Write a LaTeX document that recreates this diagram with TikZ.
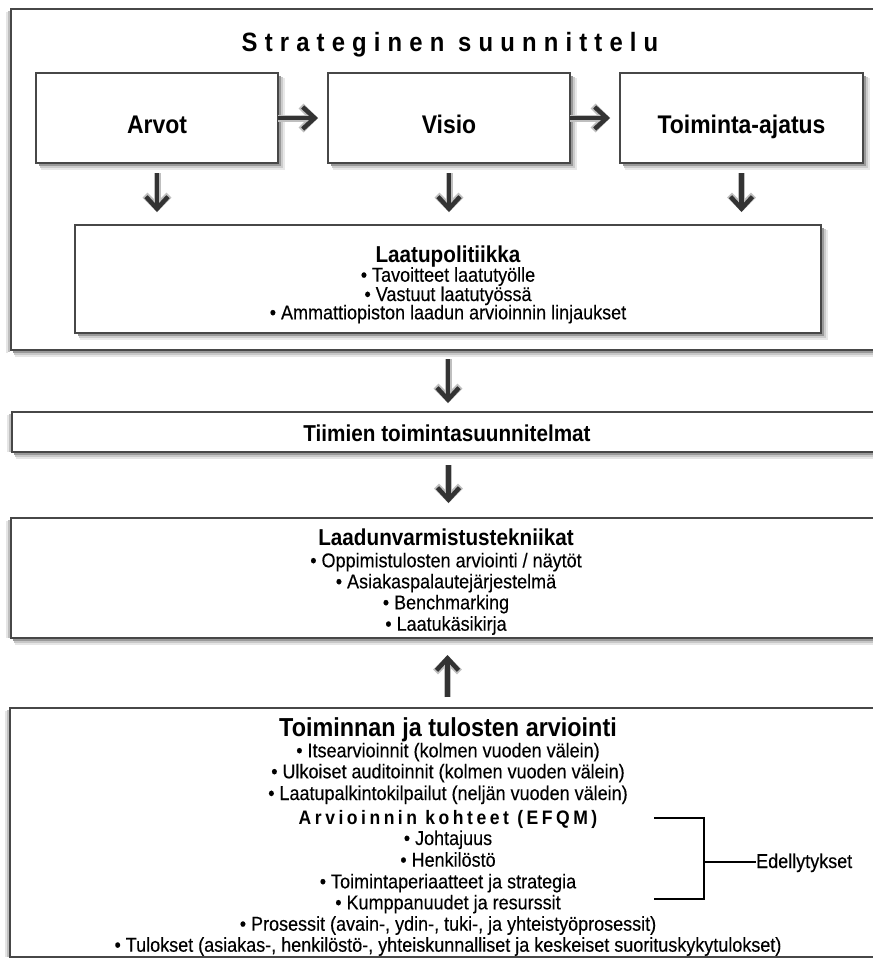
\documentclass[tikz,border=0pt]{standalone}
\usepackage{fontspec}
\setmainfont{Liberation Sans}
\newfontfamily\rgfont[FakeStretch=0.9,FakeBold=0.25]{Liberation Sans}
\newfontfamily\bdfont[FakeStretch=0.9]{Liberation Sans}
\newfontfamily\ttlfont[FakeStretch=0.9,LetterSpace=27]{Liberation Sans}
\newfontfamily\efqmfont[FakeStretch=0.9,LetterSpace=18]{Liberation Sans}
\usetikzlibrary{arrows.meta}
\begin{document}
\begin{tikzpicture}[x=1pt,y=-1pt,
  box/.style={draw=black!72, line width=2.5pt, fill=white, outer sep=0pt, inner sep=0pt},
  shd/.style={draw=black!#1, line width=2pt},
  rg/.style={font=\rgfont\fontsize{20}{21}\selectfont, inner sep=0pt, anchor=base},
  hdA/.style={font=\bdfont\bfseries\fontsize{25.5}{27}\selectfont, inner sep=0pt, anchor=base},
  hdB/.style={font=\bdfont\bfseries\fontsize{23}{25}\selectfont, inner sep=0pt, anchor=base},
  hdC/.style={font=\bdfont\bfseries\fontsize{26}{27}\selectfont, inner sep=0pt, anchor=base},
  ttl/.style={font=\ttlfont\bfseries\fontsize{26.5}{28}\selectfont, inner sep=0pt, anchor=base},
  efqm/.style={font=\efqmfont\bfseries\fontsize{19.5}{21}\selectfont, inner sep=0pt, anchor=base},
  arr/.style={draw=black!80, line width=4.5pt, -{Straight Barb[length=12pt,width=22pt]}},
  arrsh/.style={draw=black!25, line width=7pt, -{Straight Barb[length=12pt,width=24pt]}},
  brk/.style={draw=black, line width=2pt}]
\clip (0,0) rectangle (873,959);
\fill[white] (0,0) rectangle (873,959);

% Strategic planning frame
\node[box, minimum width=874pt, minimum height=341pt] (strat) at (448,179.5) {};
\draw[shd=40] ([xshift=2pt,yshift=-2.25pt]strat.south west) -- ([yshift=-2.25pt]strat.south east);
\draw[shd=22] ([xshift=3pt,yshift=-4.25pt]strat.south west) -- ([yshift=-4.25pt]strat.south east);
\draw[shd=10] ([xshift=4pt,yshift=-6.25pt]strat.south west) -- ([yshift=-6.25pt]strat.south east);
\draw[shd=25] ([xshift=-2.25pt,yshift=-2pt]strat.north west) -- ([xshift=-2.25pt,yshift=-2pt]strat.south west);
\draw[shd=10] ([xshift=-4.25pt,yshift=-3pt]strat.north west) -- ([xshift=-4.25pt,yshift=-3pt]strat.south west);
\node[ttl] (strattxt) at (450,51.5) {Strateginen suunnittelu};

\foreach \b/\c/\w in {arvot/157/242, visio/449/242, toim/741.5/243}{
  \node[box, minimum width=\w pt, minimum height=90pt] (\b) at (\c,118) {};
  \draw[shd=40] ([xshift=3pt,yshift=-2.25pt]\b.south west) -- ([xshift=2.25pt,yshift=-2.25pt]\b.south east) -- ([xshift=2.25pt,yshift=-3pt]\b.north east);
  \draw[shd=20] ([xshift=4pt,yshift=-4.25pt]\b.south west) -- ([xshift=4.25pt,yshift=-4.25pt]\b.south east) -- ([xshift=4.25pt,yshift=-4pt]\b.north east);
  \draw[shd=9] ([xshift=5pt,yshift=-6.25pt]\b.south west) -- ([xshift=6.25pt,yshift=-6.25pt]\b.south east) -- ([xshift=6.25pt,yshift=-5pt]\b.north east);
}
\node[hdA] (arvott) at (157,133) {Arvot};
\node[hdA] (visiot) at (449,133) {Visio};
\node[hdA] (toimt) at (741.5,133) {Toiminta-ajatus};

\node[box, minimum width=746pt, minimum height=108pt] (lp) at (448,279) {};
\draw[shd=40] ([xshift=3pt,yshift=-2.25pt]lp.south west) -- ([xshift=2.25pt,yshift=-2.25pt]lp.south east) -- ([xshift=2.25pt,yshift=-3pt]lp.north east);
\draw[shd=20] ([xshift=4pt,yshift=-4.25pt]lp.south west) -- ([xshift=4.25pt,yshift=-4.25pt]lp.south east) -- ([xshift=4.25pt,yshift=-4pt]lp.north east);
\draw[shd=9] ([xshift=5pt,yshift=-6.25pt]lp.south west) -- ([xshift=6.25pt,yshift=-6.25pt]lp.south east) -- ([xshift=6.25pt,yshift=-5pt]lp.north east);
\node[hdB] (lp0) at (448,262.7) {Laatupolitiikka};
\node[rg] (lp1) at (448,281.7) {• Tavoitteet laatutyölle};
\node[rg] (lp2) at (448,301) {• Vastuut laatutyössä};
\node[rg] (lp3) at (448,319.3) {• Ammattiopiston laadun arvioinnin linjaukset};

\draw[arrsh, shorten >=10pt] (arvot.east) -- (visio.west);
\draw[arrsh, shorten >=10pt] (visio.east) -- (toim.west);
\draw[arrsh, shorten <=10pt, shorten >=13pt] (arvot.south) -- (arvot.south |- lp.north);
\draw[arrsh, shorten <=10pt, shorten >=13pt] (visio.south) -- (visio.south |- lp.north);
\draw[arrsh, shorten <=10pt, shorten >=13pt] (toim.south) -- (toim.south |- lp.north);
\draw[arr, shorten >=10pt] (arvot.east) -- (visio.west);
\draw[arr, shorten >=10pt] (visio.east) -- (toim.west);
\draw[arr, shorten <=10pt, shorten >=13pt] (arvot.south) -- (arvot.south |- lp.north);
\draw[arr, shorten <=10pt, shorten >=13pt] (visio.south) -- (visio.south |- lp.north);
\draw[arr, shorten <=10pt, shorten >=13pt] (toim.south) -- (toim.south |- lp.north);

% Team plans, quality assurance, evaluation
\node[box, minimum width=873pt, minimum height=40pt] (tiimi) at (448.5,432) {};
\node[box, minimum width=874pt, minimum height=120pt] (lv) at (448,578) {};
\node[box, minimum width=875pt, minimum height=249pt] (ta) at (447.5,832.5) {};
\foreach \b in {tiimi, lv}{
  \draw[shd=40] ([xshift=2pt,yshift=-2.25pt]\b.south west) -- ([yshift=-2.25pt]\b.south east);
  \draw[shd=22] ([xshift=3pt,yshift=-4.25pt]\b.south west) -- ([yshift=-4.25pt]\b.south east);
  \draw[shd=10] ([xshift=4pt,yshift=-6.25pt]\b.south west) -- ([yshift=-6.25pt]\b.south east);
}
\foreach \b in {tiimi, lv, ta}{
  \draw[shd=25] ([xshift=-2.25pt,yshift=-2pt]\b.north west) -- ([xshift=-2.25pt]\b.south west);
  \draw[shd=10] ([xshift=-4.25pt,yshift=-3pt]\b.north west) -- ([xshift=-4.25pt]\b.south west);
}
\node[hdB] (tiimit) at (447,441.7) {Tiimien toimintasuunnitelmat};
\node[hdB] (lv0) at (446,545) {Laadunvarmistustekniikat};
\node[rg] (lv1) at (446,567.3) {• Oppimistulosten arviointi / näytöt};
\node[rg] (lv2) at (446,588.3) {• Asiakaspalautejärjestelmä};
\node[rg] (lv3) at (446,609.3) {• Benchmarking};
\node[rg] (lv4) at (446,630.7) {• Laatukäsikirja};

\node[hdC] (ta0) at (448,736.7) {Toiminnan ja tulosten arviointi};
\node[rg] (ta1) at (448,757.3) {• Itsearvioinnit (kolmen vuoden välein)};
\node[rg] (ta2) at (448,778.3) {• Ulkoiset auditoinnit (kolmen vuoden välein)};
\node[rg] (ta3) at (448,800) {• Laatupalkintokilpailut (neljän vuoden välein)};
\node[efqm] (ta4) at (448,824) {Arvioinnin kohteet (EFQM)};
\node[rg] (ta5) at (448,845) {• Johtajuus};
\node[rg] (ta6) at (448,866.7) {• Henkilöstö};
\node[rg] (ta7) at (448,888.3) {• Toimintaperiaatteet ja strategia};
\node[rg] (ta8) at (448,909.3) {• Kumppanuudet ja resurssit};
\node[rg] (ta9) at (448,930.7) {• Prosessit (avain-, ydin-, tuki-, ja yhteistyöprosessit)};
\node[rg] (ta10) at (448,951.7) {• Tulokset (asiakas-, henkilöstö-, yhteiskunnalliset ja keskeiset suorituskykytulokset)};

% Bracket
\coordinate (bt) at (654,818);
\coordinate (bb) at (654,899);
\coordinate (bv) at (704,862);
\node[rg, anchor=base west] (edel) at (756,868) {Edellytykset};
\draw[brk] (bt) -| (bv) |- (bb);
\draw[brk] (bv) -- (bv -| edel.west);

% Vertical flow arrows
\draw[arrsh, shorten <=9pt, shorten >=9pt] (strat.south) -- (strat.south |- tiimi.north);
\draw[arrsh, shorten <=13pt, shorten >=15pt] (tiimi.south) -- (tiimi.south |- lv.north);
\draw[arrsh, shorten <=11pt, shorten >=17pt] (ta.north) -- (ta.north |- lv.south);
\draw[arr, shorten <=9pt, shorten >=9pt] (strat.south) -- (strat.south |- tiimi.north);
\draw[arr, shorten <=13pt, shorten >=15pt] (tiimi.south) -- (tiimi.south |- lv.north);
\draw[arr, shorten <=11pt, shorten >=17pt] (ta.north) -- (ta.north |- lv.south);
\end{tikzpicture}
\end{document}
